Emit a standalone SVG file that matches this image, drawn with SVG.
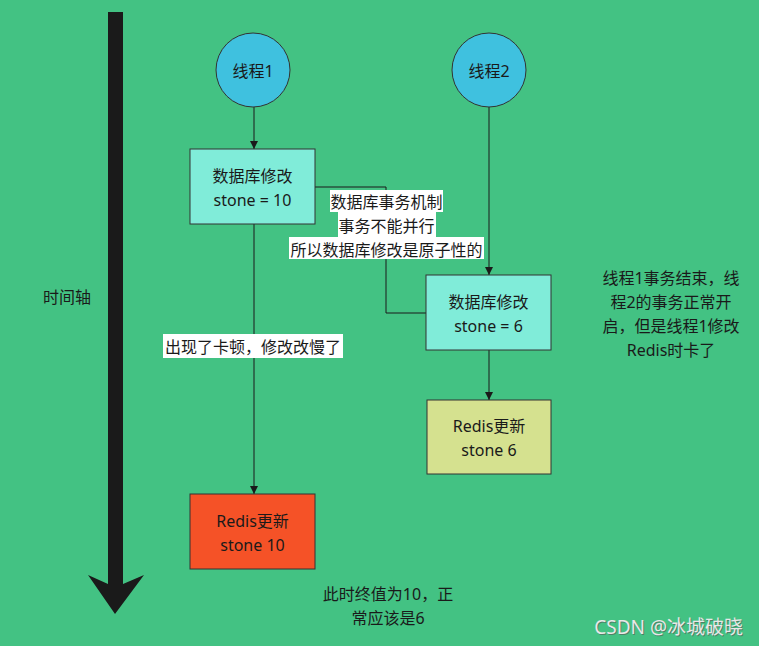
<svg xmlns="http://www.w3.org/2000/svg" width="759" height="646" viewBox="0 0 759 646">
<defs>
<style>
text{font-family:"Noto Sans","Noto Sans CJK SC",sans-serif;font-size:16px;fill:#1a1a1a;text-anchor:middle;dominant-baseline:central}
.box{stroke:#333;stroke-width:1}
.ln{stroke:#1a1a1a;stroke-width:1;fill:none}
.lbl{fill:#ffffff}
</style>
<marker id="ah" viewBox="0 0 10 10" refX="10" refY="5" markerWidth="8" markerHeight="8" markerUnits="userSpaceOnUse" orient="auto">
<path d="M0,0 L10,5 L0,10 z" fill="#1a1a1a"/>
</marker>
</defs>
<rect width="759" height="646" fill="#43c283"/>
<g id="timeaxis">
<path d="M108,12 H123 V584 L144,575 L115,614 L88,575 L108,584 Z" fill="#1a1a1a"/>
<text x="67" y="297">时间轴</text>
</g>
<g id="connectors">
<line class="ln" x1="254" y1="107" x2="254" y2="149" marker-end="url(#ah)"/>
<line class="ln" x1="489" y1="107" x2="489" y2="275" marker-end="url(#ah)"/>
<line class="ln" x1="489" y1="350" x2="489" y2="400" marker-end="url(#ah)"/>
<line class="ln" x1="254" y1="224" x2="254" y2="494" marker-end="url(#ah)"/>
<path class="ln" d="M315,187 H386 V313 H426"/>
<rect class="lbl" x="330" y="190" width="113" height="22"/>
<rect class="lbl" x="338" y="212" width="98" height="25"/>
<rect class="lbl" x="289" y="237" width="195" height="22"/>
<text x="386.5" y="202">数据库事务机制</text>
<text x="386.5" y="226">事务不能并行</text>
<text x="386.5" y="250">所以数据库修改是原子性的</text>
<rect class="lbl" x="163" y="334" width="180" height="24"/>
<text x="253" y="347">出现了卡顿，修改改慢了</text>
</g>
<g id="thread1">
<circle class="box" cx="253" cy="70" r="37" fill="#3fc1df"/>
<text x="253" y="71">线程1</text>
</g>
<g id="thread2">
<circle class="box" cx="489" cy="70" r="37" fill="#3fc1df"/>
<text x="489" y="71">线程2</text>
</g>
<g id="db1">
<rect class="box" x="190" y="149" width="125" height="75" fill="#80ecd9"/>
<text x="252.5" y="176">数据库修改</text>
<text x="252.5" y="200">stone = 10</text>
</g>
<g id="db2">
<rect class="box" x="426" y="275" width="125" height="75" fill="#80ecd9"/>
<text x="488.5" y="302">数据库修改</text>
<text x="488.5" y="326">stone = 6</text>
</g>
<g id="redis2">
<rect class="box" x="427" y="400" width="124" height="74" fill="#d5e18f"/>
<text x="489" y="426">Redis更新</text>
<text x="489" y="450">stone 6</text>
</g>
<g id="redis1">
<rect class="box" x="190" y="494" width="125" height="75" fill="#f55227"/>
<text x="252.5" y="521">Redis更新</text>
<text x="252.5" y="545">stone 10</text>
</g>
<g id="note1">
<text x="671" y="278">线程1事务结束，线</text>
<text x="671" y="302">程2的事务正常开</text>
<text x="671" y="326">启，但是线程1修改</text>
<text x="671" y="350">Redis时卡了</text>
</g>
<g id="note2">
<text x="388" y="594">此时终值为10，正</text>
<text x="388" y="618">常应该是6</text>
</g>
<g id="watermark">
<text x="744" y="628" style="text-anchor:end;font-size:19px;fill:#555;opacity:0.6">CSDN @冰城破晓</text>
<text x="743" y="627" style="text-anchor:end;font-size:19px;fill:#e8e8e8">CSDN @冰城破晓</text>
</g>
</svg>
